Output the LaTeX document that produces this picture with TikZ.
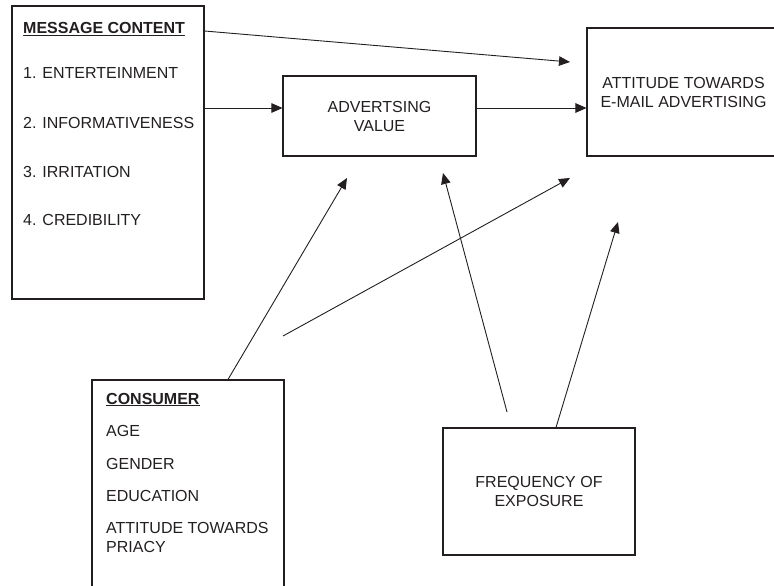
\documentclass[tikz,border=0pt]{standalone}
\usepackage{fontspec}
\setmainfont{Liberation Sans}
\usetikzlibrary{arrows.meta,positioning}
\definecolor{ink}{HTML}{231F20}
\tikzset{box/.style={draw=ink,line width=1.05pt,inner sep=0pt},arr/.style={-{Triangle[length=11pt,width=9.5pt]},ink,line width=0.9pt},itemtext/.style={anchor=base west,inner sep=0pt,text=ink},mid/.style={align=center,text=ink}}

\begin{document}
\begin{tikzpicture}[x=1pt,y=-1pt,font=\fontsize{16}{19}\selectfont]
\useasboundingbox (0,0) rectangle (774,586);
% boxes
\node[box,minimum width=192pt,minimum height=293pt] (msg) at (108,152.5) {};
\node[box,minimum width=193pt,minimum height=80pt,mid] (adv) at (379.5,116) {ADVERTSING\\VALUE};
\node[box,minimum width=193pt,minimum height=128pt,mid] (att) at (683.5,92) {ATTITUDE TOWARDS\\E-MAIL ADVERTISING};
\node[box,minimum width=192pt,minimum height=230pt] (cons) at (188,495) {};
\node[box,minimum width=192pt,minimum height=127pt,mid] (freq) at (539,491.5) {FREQUENCY OF\\EXPOSURE};
% message content
\node[itemtext] (msghead) at (23,33.3) {\underline{\textbf{MESSAGE CONTENT}}};
\node[itemtext] (msg1) at (23,79) {1. ENTERTEINMENT};
\node[itemtext] (msg2) at (23,128.5) {2. INFORMATIVENESS};
\node[itemtext] (msg3) at (23,177.5) {3. IRRITATION};
\node[itemtext] (msg4) at (23,225.7) {4. CREDIBILITY};
% consumer
\node[itemtext] (conshead) at (106,404) {\underline{\textbf{CONSUMER}}};
\node[itemtext] (cons1) at (106,436) {AGE};
\node[itemtext] (cons2) at (106,469) {GENDER};
\node[itemtext] (cons3) at (106,501) {EDUCATION};
\node[itemtext,align=left,anchor=north west] (cons4) at (106,522) {ATTITUDE TOWARDS\\PRIACY};
% free ends
\coordinate (atttip1) at (570,62);
\coordinate (advtip1) at (347,178);
\coordinate (crossstart) at (283,336);
\coordinate (atttip2) at (570,178);
\coordinate (freqstart) at (507,412);
\coordinate (advtip2) at (443,173);
\coordinate (atttip3) at (618,222);
% arrows
\draw[arr] (msg.east |- 0,31) -- (atttip1);
\draw[arr] (msg.east |- 0,108) -- (adv.west |- 0,108);
\draw[arr] (adv.east |- 0,108) -- (att.west |- 0,108);
\draw[arr] (cons.north -| 228,0) -- (advtip1);
\draw[arr] (crossstart) -- (atttip2);
\draw[arr] (freqstart) -- (advtip2);
\draw[arr] (freq.north -| 556,0) -- (atttip3);
\end{tikzpicture}
\end{document}
